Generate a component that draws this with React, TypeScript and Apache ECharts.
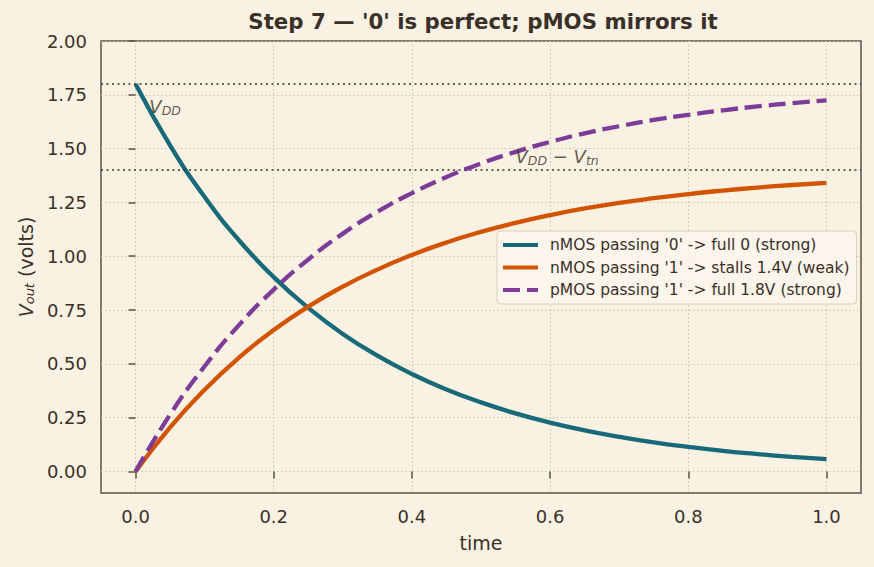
import React, { useEffect, useRef } from "react";
import * as echarts from "echarts";

// Sample times and node voltages (V) for the three pass-transistor cases
const times = [0, 0.05, 0.1, 0.15, 0.2, 0.25, 0.3, 0.35, 0.4, 0.45, 0.5, 0.55, 0.6, 0.65, 0.7, 0.75, 0.8, 0.85, 0.9, 0.95, 1.0];
const nmosZero = [1.8, 1.515, 1.275, 1.073, 0.903, 0.76, 0.639, 0.538, 0.453, 0.381, 0.321, 0.27, 0.227, 0.191, 0.161, 0.135, 0.114, 0.096, 0.081, 0.068, 0.057];
const nmosOne = [0, 0.205, 0.38, 0.53, 0.657, 0.766, 0.859, 0.938, 1.006, 1.064, 1.113, 1.155, 1.191, 1.222, 1.248, 1.27, 1.289, 1.305, 1.319, 1.331, 1.341];
const pmosOne = [0, 0.264, 0.489, 0.681, 0.845, 0.985, 1.105, 1.207, 1.293, 1.368, 1.431, 1.485, 1.531, 1.571, 1.604, 1.633, 1.657, 1.678, 1.696, 1.711, 1.724];

const seriesNames = [
  "nMOS passing '0' -> full 0 (strong)",
  "nMOS passing '1' -> stalls 1.4V (weak)",
  "pMOS passing '1' -> full 1.8V (strong)",
];

// Reference levels
const vdd = 1.8;
const vddMinusVtn = 1.4;

const xTicks = [0, 0.2, 0.4, 0.6, 0.8, 1.0];
const yTicks = [0, 0.25, 0.5, 0.75, 1.0, 1.25, 1.5, 1.75, 2.0];

const F = "'DejaVu Sans', sans-serif";
const BG = "#f9f2e3";
const INK = "#3a3028";
const SPINE = "#5c5145";
const GRID = "#cbc2b0";
const TEAL = "#186a78";
const ORANGE = "#d35400";
const PURPLE = "#7d3c98";

const mathRich = (size: number, sub: number, drop: number) => ({
  v: { fontFamily: F, fontStyle: "italic", fontSize: size, color: INK, lineHeight: size + 2 },
  s: { fontFamily: F, fontStyle: "italic", fontSize: sub, color: INK, lineHeight: size + 2 - drop, padding: [drop, 0, 0, 0] },
  m: { fontFamily: F, fontSize: size, color: INK, lineHeight: size + 2 },
});

export default function App() {
  const ref = useRef<HTMLDivElement>(null);

  useEffect(() => {
    document.body.style.margin = "0";
    document.body.style.background = BG;
    if (!ref.current) return;
    const chart = echarts.init(ref.current, null, { renderer: "svg" });

    const pairs = (ys: number[]) => times.map((t, i) => [t, ys[i]]);

    const option: any = {
      animation: false,
      backgroundColor: BG,
      textStyle: { fontFamily: F },
      title: {
        text: "Step 7 — '0' is perfect; pMOS mirrors it",
        left: 478,
        top: 6,
        textAlign: "center",
        textStyle: { fontFamily: F, fontSize: 21.3, fontWeight: "bold", color: INK },
      },
      grid: {
        left: 101,
        right: 13,
        top: 41,
        bottom: 74,
        show: true,
        borderColor: SPINE,
        borderWidth: 1.5,
        backgroundColor: "transparent",
        containLabel: false,
        outerBoundsMode: "none",
      },
      legend: {
        data: seriesNames,
        orient: "vertical",
        left: 497,
        top: 231,
        padding: [6, 7, 6, 4],
        itemGap: 6.5,
        itemWidth: 35,
        itemHeight: 14,
        selectedMode: false,
        backgroundColor: "rgba(251,246,236,0.85)",
        borderColor: "#d8d0c0",
        borderWidth: 1,
        borderRadius: 4,
        itemStyle: { color: "transparent", borderColor: "transparent", borderWidth: 0, opacity: 0 },
        lineStyle: { width: 4 },
        textStyle: { fontFamily: F, fontSize: 15.5, color: INK, lineHeight: 16, padding: [0, 0, 0, 7] },
      },
      xAxis: {
        type: "value",
        min: -0.05,
        max: 1.05,
        name: "time",
        nameLocation: "middle",
        nameGap: 40,
        nameTextStyle: { fontFamily: F, fontSize: 19, color: INK },
        axisLine: { show: false },
        axisTick: { show: true, length: 7, lineStyle: { color: SPINE, width: 1.5 }, customValues: xTicks },
        axisLabel: {
          customValues: xTicks,
          formatter: (v: number) => v.toFixed(1),
          fontFamily: F,
          fontSize: 18,
          color: INK,
          margin: 14,
        },
        splitLine: { show: true, lineStyle: { color: GRID, width: 1, type: [1.5, 2.5] } },
      },
      yAxis: {
        type: "value",
        min: -0.1,
        max: 2.0,
        name: "{v|V}{s|out}{m| (volts)}",
        nameLocation: "middle",
        nameRotate: 90,
        nameGap: 64,
        nameTextStyle: { rich: mathRich(19, 13, 8) },
        axisLine: { show: false },
        axisTick: { show: true, length: 7, lineStyle: { color: SPINE, width: 1.5 }, customValues: yTicks },
        axisLabel: {
          customValues: yTicks,
          formatter: (v: number) => v.toFixed(2),
          fontFamily: F,
          fontSize: 18,
          color: INK,
          margin: 14,
        },
        splitLine: { show: true, lineStyle: { color: GRID, width: 1, type: [1.5, 2.5] } },
      },
      series: [
        {
          name: seriesNames[0],
          type: "line",
          data: pairs(nmosZero),
          smooth: true,
          symbol: "none",
          lineStyle: { color: TEAL, width: 4.3 },
          itemStyle: { color: TEAL },
          z: 3,
          markLine: {
            silent: true,
            symbol: "none",
            label: { show: false },
            lineStyle: { color: INK, width: 1.6, type: [2, 3.5] },
            data: [{ yAxis: vdd }, { yAxis: vddMinusVtn }],
          },
        },
        {
          name: seriesNames[1],
          type: "line",
          data: pairs(nmosOne),
          smooth: true,
          symbol: "none",
          lineStyle: { color: ORANGE, width: 4.3 },
          itemStyle: { color: ORANGE },
          z: 4,
        },
        {
          name: seriesNames[2],
          type: "line",
          data: pairs(pmosOne),
          smooth: true,
          symbol: "none",
          lineStyle: { color: PURPLE, width: 4.3, type: [17, 7] },
          itemStyle: { color: PURPLE },
          z: 5,
        },
        {
          name: "annotations",
          type: "scatter",
          silent: true,
          symbolSize: 0,
          itemStyle: { color: "transparent" },
          z: 6,
          data: [
            { value: [0.02, 1.65], label: { formatter: "{v|V}{s|DD}" } },
            { value: [0.55, 1.415], label: { formatter: "{v|V}{s|DD}{m| − }{v|V}{s|tn}" } },
          ],
          label: {
            show: true,
            position: [0, 0],
            align: "left",
            verticalAlign: "bottom",
            rich: mathRich(18, 12.5, 8),
          },
        },
      ],
    };

    chart.setOption(option);
    return () => chart.dispose();
  }, []);

  return (
    <div
      ref={ref}
      style={{ position: "absolute", left: 0, top: 0, width: 874, height: 567, background: BG }}
    />
  );
}
